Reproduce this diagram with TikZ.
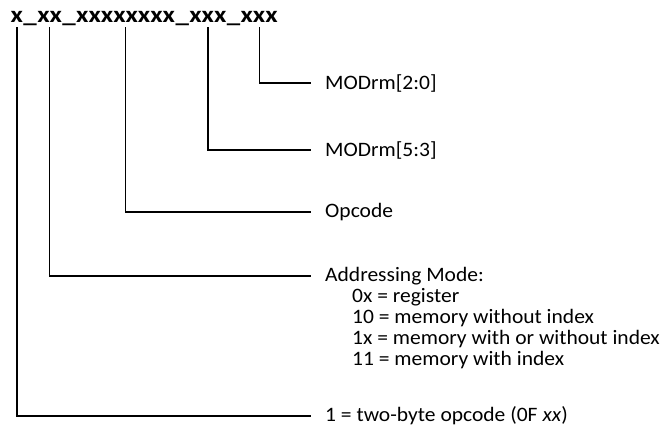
\documentclass[tikz,border=0pt]{standalone}
\usepackage{fontspec}
\setmainfont{Carlito}[FakeStretch=1.05]
\newfontfamily\hdrfont{Carlito}[FakeStretch=1.17]
\usetikzlibrary{positioning}
\tikzset{
  field/.style={inner xsep=0pt, inner ysep=5pt, text height=10pt, text depth=0pt,
    font=\hdrfont\fontsize{23}{23}\selectfont\bfseries},
  lbl/.style={anchor=west, inner xsep=14pt, inner ysep=0pt,
    font=\fontsize{20.5}{21}\selectfont},
  conn/.style={line width=1.3pt}
}
\begin{document}
\begin{tikzpicture}[x=1pt,y=-1pt]
  \useasboundingbox (0,0) rectangle (666,429);
  % instruction word
  \node[field,anchor=base west](f1)at(10.5,22) {x};
  \node[field,right=0pt of f1](u1) {\_};
  \node[field,right=0pt of u1](f2) {xx};
  \node[field,right=0pt of f2](u2) {\_};
  \node[field,right=0pt of u2](f3) {xxxxxxxx};
  \node[field,right=0pt of f3](u3) {\_};
  \node[field,right=0pt of u3](f4) {xxx};
  \node[field,right=0pt of f4](u4) {\_};
  \node[field,right=0pt of u4](f5) {xxx};

  % labels
  \node[lbl](rm)at(311,83) {MODrm[2:0]};
  \node[lbl](reg)at(311,150) {MODrm[5:3]};
  \node[lbl](opc)at(311,212) {Opcode};
  \node[lbl](am)at(311,276) {Addressing Mode:};
  \node[lbl,anchor=north west,inner xsep=0pt,align=left](amlist)
    at([xshift=41pt,yshift=-3pt]am.south west) {0x = register\\
    10 = memory without index\\
    1x = memory with or without index\\
    11 = memory with index};
  \node[lbl](tb)at(311,416) {1 = two-byte opcode (0F \textit{xx})};

  \draw[conn](f5.south) |- (rm.west);
  \draw[conn](f4.south) |- (reg.west);
  \draw[conn](f3.south) |- (opc.west);
  \draw[conn](f2.south) |- (am.west);
  \draw[conn](f1.south) |- (tb.west);
\end{tikzpicture}
\end{document}
